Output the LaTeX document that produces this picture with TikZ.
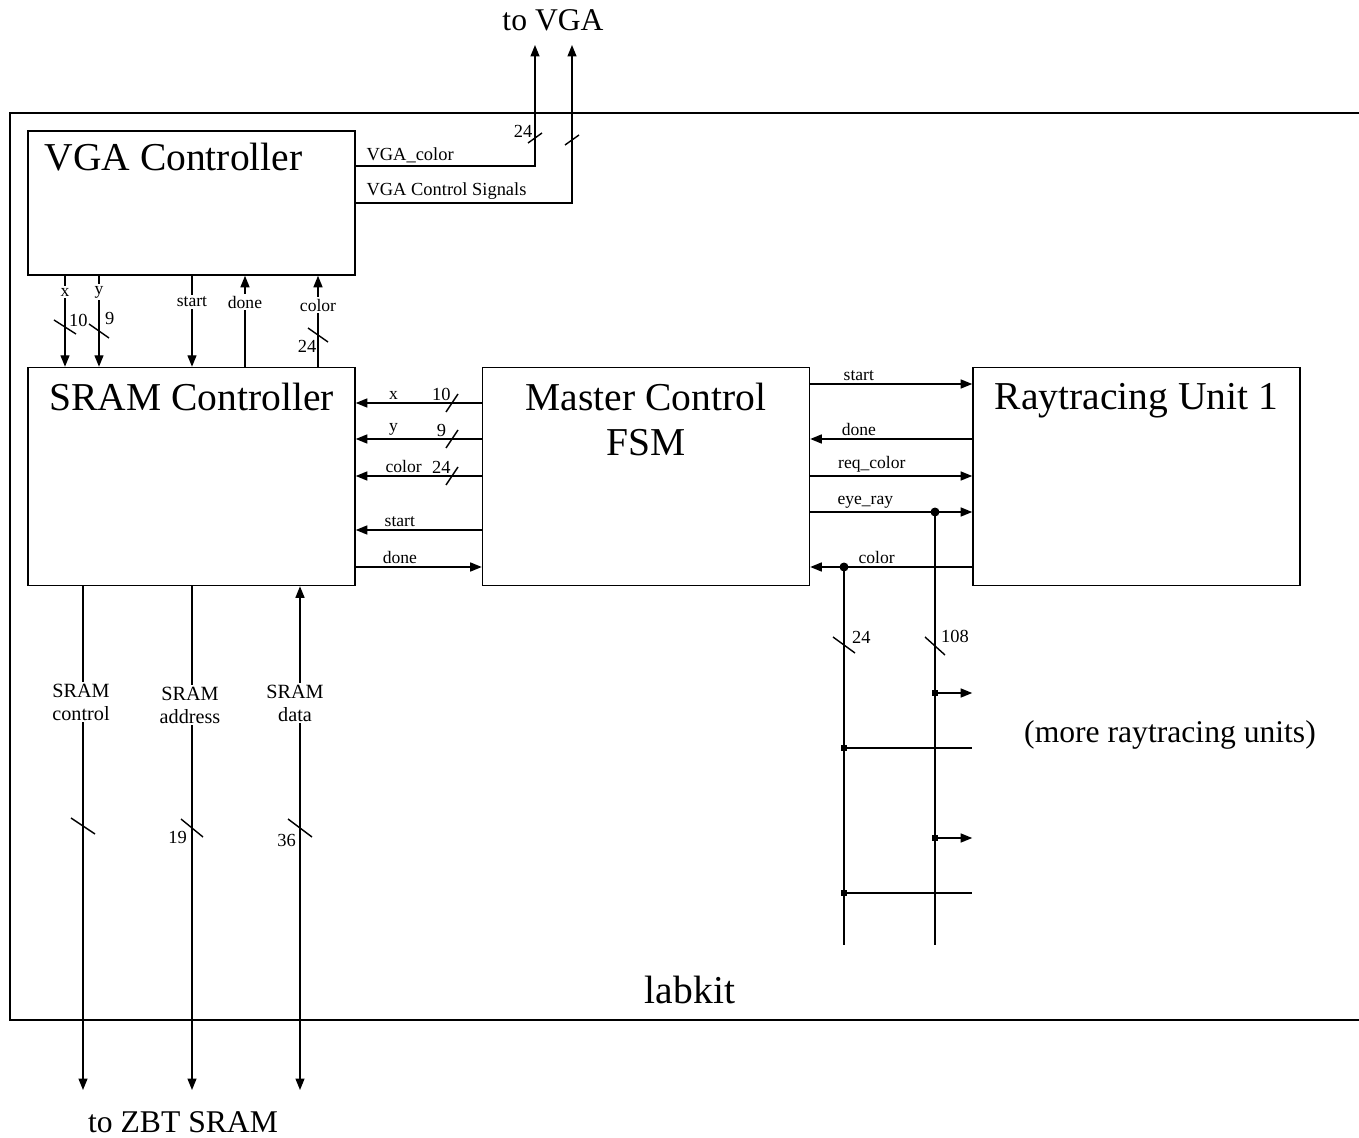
\documentclass[tikz,border=0pt]{standalone}
\usepackage{fontspec}
\setmainfont{Liberation Serif}
\usetikzlibrary{positioning, arrows.meta, calc}

\newcommand{\busmark}[3]{\draw[sig] ($(#1)+(#2,#3)$) -- ($(#1)-(#2,#3)$);}

\begin{document}
\begin{tikzpicture}[x=0.02cm, y=-0.02cm,
    box/.style={rectangle, draw=black, line width=0.9pt, minimum width=6.54cm, minimum height=4.36cm, inner sep=0pt},
    title/.style={font=\fontsize{22.5}{25.5}\selectfont, inner sep=0pt, align=center},
    big/.style={font=\fontsize{18}{20}\selectfont, inner sep=0pt},
    sig/.style={line width=0.8pt},
    arrow/.style={sig, -{Triangle[length=0.23cm, width=0.18cm]}},
    biarrow/.style={sig, {Triangle[length=0.23cm, width=0.18cm]}-{Triangle[length=0.23cm, width=0.18cm]}},
    lbl/.style={font=\fontsize{10}{12}\selectfont, inner sep=1.5pt},
    vgalbl/.style={font=\fontsize{10.5}{12}\selectfont, inner sep=1.5pt},
    gap/.style={lbl, fill=white, inner sep=1pt},
    sramlbl/.style={font=\fontsize{11.5}{13}\selectfont, fill=white, inner sep=1pt, align=center},
    num/.style={font=\fontsize{10.5}{12}\selectfont, inner sep=1pt},
    junction/.style={circle, fill=black, inner sep=0pt, minimum size=0.18cm},
    tap/.style={rectangle, fill=black, inner sep=0pt, minimum size=0.13cm}
  ]
  \useasboundingbox (0,0) rectangle (1359,1138);

  \draw[line width=0.9pt] (10,113) rectangle (1380,1020);
  \node[title] (labkit) at (690,990) {labkit};

  \node[box, minimum height=2.88cm] (vga) at (191.5,203) {};
  \node[box, below=1.82cm of vga] (sram) {};
  \node[box, right=2.52cm of sram] (master) {};
  \node[box, right=3.24cm of master] (rtu) {};

  \node[title, anchor=north west] at ([xshift=0.34cm, yshift=-0.26cm]vga.north west) {VGA Controller};
  \node[title, anchor=north] at ([yshift=-0.32cm]sram.north) {SRAM Controller};
  \node[title, anchor=north] at ([yshift=-0.32cm]master.north) {Master Control\\FSM};
  \node[title, anchor=north] at ([yshift=-0.32cm]rtu.north) {Raytracing Unit 1};

  \node[big] (tovga) at (553,20) {to VGA};
  \node[big] (tozbt) at (183,1122) {to ZBT SRAM};
  \node[big] (more) at (1170,735) {(more raytracing units)};

  % outputs to the VGA port
  \coordinate (vgacol) at (535,45);
  \coordinate (vgactl) at (572,45);
  \draw[arrow] (vga.east |- 0,166) node[vgalbl, above right, xshift=0.15cm] {VGA\_color} -| (vgacol);
  \draw[arrow] (vga.east |- 0,203) node[vgalbl, above right, xshift=0.15cm] {VGA Control Signals} -| (vgactl);
  \busmark{535,138}{-7}{5}
  \busmark{572,140}{-7}{5}
  \node[num] at (523,131) {24};

  % VGA controller <-> SRAM controller
  \foreach \xx/\lab/\ly in {65/x/292, 99/y/292, 192/start/302} {
    \draw[arrow] (vga.south -| \xx,0) -- (sram.north -| \xx,0);
    \node[gap] at (\xx,\ly) {\lab};
  }
  \foreach \xx/\lab/\ly in {245/done/302, 318/color/305} {
    \draw[arrow] (sram.north -| \xx,0) -- (vga.south -| \xx,0);
    \node[gap] at (\xx,\ly) {\lab};
  }
  \busmark{65,327}{-11}{-7}
  \busmark{99,331}{-10}{-7}
  \busmark{318,335}{-10}{-7}
  \node[num, anchor=west] at (67,320) {10};
  \node[num, anchor=west] at (103,318) {9};
  \node[num] at (307,346) {24};

  % master FSM <-> SRAM controller
  \foreach \yy/\lab/\w/\lpos in {403/x/10/0.70, 439/y/9/0.70, 476/color/24/0.62} {
    \draw[arrow] (master.west |- 0,\yy) -- node[lbl, above, pos=\lpos] {\lab} node[num, above, pos=0.32] {\w} (sram.east |- 0,\yy);
    \busmark{452,\yy}{-6}{9}
  }
  \draw[arrow] (master.west |- 0,530) -- node[lbl, above, pos=0.65] {start} (sram.east |- 0,530);
  \draw[arrow] (sram.east |- 0,567) -- node[lbl, above, pos=0.35] {done} (master.west |- 0,567);

  % master FSM <-> raytracing unit
  \draw[arrow] (master.east |- 0,384) -- node[lbl, above, pos=0.30] {start} (rtu.west |- 0,384);
  \draw[arrow] (rtu.west |- 0,439) -- node[lbl, above, pos=0.70] {done} (master.east |- 0,439);
  \draw[arrow] (master.east |- 0,476) -- node[lbl, above, pos=0.38] {req\_color} (rtu.west |- 0,476);
  \draw[arrow] (master.east |- 0,512) -- node[lbl, above, pos=0.34] {eye\_ray} (rtu.west |- 0,512);
  \draw[arrow] (rtu.west |- 0,567) -- node[lbl, above, pos=0.59] {color} (master.east |- 0,567);

  % shared buses for more units
  \node[junction] (eyej) at (935,512) {};
  \node[junction] (colj) at (844,567) {};
  \coordinate (eyeend) at (935,945);
  \coordinate (colend) at (844,945);
  \draw[sig] (eyej.center) -- (eyeend);
  \draw[sig] (colj.center) -- (colend);
  \busmark{844,645}{-11}{-8}
  \busmark{935,646}{-10}{-9}
  \node[num, anchor=west] at (850,637) {24};
  \node[num, anchor=west] at (939,636) {108};
  \foreach \k/\yy in {1/693, 2/838} {
    \node[tap] (eyetap\k) at (935,\yy) {};
    \draw[arrow] (eyetap\k.center) -- (eyetap\k -| rtu.west);
  }
  \foreach \k/\yy in {1/748, 2/893} {
    \node[tap] (coltap\k) at (844,\yy) {};
    \draw[sig] (coltap\k.center) -- (coltap\k -| rtu.west);
  }

  % SRAM controller <-> ZBT SRAM
  \coordinate (zbtctl) at (83,1090);
  \coordinate (zbtadr) at (192,1090);
  \coordinate (zbtdat) at (300,1090);
  \draw[arrow] (sram.south -| zbtctl) -- (zbtctl);
  \draw[arrow] (sram.south -| zbtadr) -- (zbtadr);
  \draw[biarrow] (zbtdat) -- (sram.south -| zbtdat);
  \node[sramlbl] at (81,702) {SRAM\\control};
  \node[sramlbl] at (190,705) {SRAM\\address};
  \node[sramlbl] at (295,703) {SRAM\\data};
  \busmark{83,826}{-12}{-8}
  \busmark{192,828}{-11}{-9}
  \busmark{300,828}{-12}{-9}
  \node[num, anchor=east] at (189,837) {19};
  \node[num, anchor=east] at (298,840) {36};
\end{tikzpicture}
\end{document}
